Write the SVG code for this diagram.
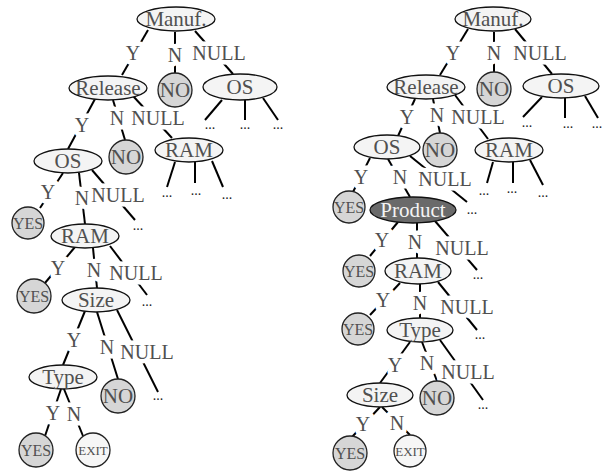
<svg xmlns="http://www.w3.org/2000/svg" width="612" height="472" viewBox="0 0 612 472">
<style>
  .edge { stroke: #000; stroke-width: 2; fill: none; }
  .lbl { font-family: "Liberation Serif", "DejaVu Serif", serif; font-size: 20px; fill: #505050; text-anchor: middle; dominant-baseline: central; stroke: #fff; stroke-width: 9; paint-order: stroke; stroke-linejoin: round; }
  .dots { font-family: "Liberation Serif", serif; font-size: 14px; fill: #222; text-anchor: middle; }
  .attr ellipse { fill: #f4f4f4; stroke: #111; stroke-width: 1.3; }
  .dark ellipse { fill: #6a6a6a; stroke: #111; stroke-width: 1.3; }
  .leaf circle { fill: #d6d6d6; stroke: #222; stroke-width: 1.3; }
  .exit circle { fill: #f6f6f6; stroke: #222; stroke-width: 1.3; }
  .t { font-family: "Liberation Serif", "DejaVu Serif", serif; font-size: 21px; fill: #505050; text-anchor: middle; dominant-baseline: central; }
  .dark .t { fill: #f4f4f4; }
  .yes { font-size: 16px; }
  .ex { font-size: 13px; }
</style>

<!-- ===== connectors ===== -->
<g id="connectors">
  <!-- left tree -->
  <line class="edge" x1="148" y1="30" x2="122" y2="75"/>
  <line class="edge" x1="175" y1="32" x2="175" y2="73"/>
  <line class="edge" x1="195" y1="31" x2="233" y2="74"/>
  <line class="edge" x1="222" y1="100" x2="205" y2="120"/>
  <line class="edge" x1="245" y1="100" x2="245" y2="120"/>
  <line class="edge" x1="263" y1="98" x2="278" y2="120"/>
  <line class="edge" x1="95" y1="99" x2="68" y2="149"/>
  <line class="edge" x1="113" y1="100" x2="125" y2="140"/>
  <line class="edge" x1="133" y1="96" x2="172" y2="138"/>
  <line class="edge" x1="175" y1="162" x2="167" y2="187"/>
  <line class="edge" x1="195" y1="162" x2="195" y2="183"/>
  <line class="edge" x1="212" y1="161" x2="223" y2="187"/>
  <line class="edge" x1="63" y1="173" x2="40" y2="208"/>
  <line class="edge" x1="79" y1="173" x2="85" y2="224"/>
  <line class="edge" x1="92" y1="170" x2="135" y2="220"/>
  <line class="edge" x1="75" y1="247" x2="45" y2="283"/>
  <line class="edge" x1="93" y1="248" x2="97" y2="288"/>
  <line class="edge" x1="110" y1="246" x2="147" y2="295"/>
  <line class="edge" x1="85" y1="311" x2="63" y2="365"/>
  <line class="edge" x1="97" y1="312" x2="118" y2="379"/>
  <line class="edge" x1="117" y1="310" x2="158" y2="392"/>
  <line class="edge" x1="61" y1="389" x2="45" y2="436"/>
  <line class="edge" x1="64" y1="389" x2="83" y2="436"/>

  <!-- right tree -->
  <line class="edge" x1="468" y1="29" x2="440" y2="75"/>
  <line class="edge" x1="494" y1="32" x2="494" y2="72"/>
  <line class="edge" x1="515" y1="29" x2="552" y2="74"/>
  <line class="edge" x1="542" y1="97" x2="523" y2="117"/>
  <line class="edge" x1="565" y1="98" x2="565" y2="118"/>
  <line class="edge" x1="585" y1="96" x2="598" y2="118"/>
  <line class="edge" x1="415" y1="99" x2="398" y2="136"/>
  <line class="edge" x1="433" y1="99" x2="440" y2="133"/>
  <line class="edge" x1="455" y1="95" x2="488" y2="139"/>
  <line class="edge" x1="493" y1="162" x2="487" y2="183"/>
  <line class="edge" x1="513" y1="162" x2="513" y2="183"/>
  <line class="edge" x1="530" y1="160" x2="543" y2="185"/>
  <line class="edge" x1="370" y1="158" x2="353" y2="192"/>
  <line class="edge" x1="388" y1="159" x2="410" y2="197"/>
  <line class="edge" x1="410" y1="156" x2="467" y2="202"/>
  <line class="edge" x1="398" y1="222" x2="370" y2="256"/>
  <line class="edge" x1="417" y1="223" x2="417" y2="258"/>
  <line class="edge" x1="435" y1="221" x2="477" y2="270"/>
  <line class="edge" x1="400" y1="283" x2="370" y2="315"/>
  <line class="edge" x1="420" y1="284" x2="420" y2="318"/>
  <line class="edge" x1="438" y1="282" x2="477" y2="330"/>
  <line class="edge" x1="410" y1="342" x2="380" y2="383"/>
  <line class="edge" x1="422" y1="342" x2="437" y2="381"/>
  <line class="edge" x1="440" y1="340" x2="483" y2="400"/>
  <line class="edge" x1="380" y1="407" x2="352" y2="437"/>
  <line class="edge" x1="382" y1="407" x2="410" y2="435"/>

  <!-- branch labels -->
  <text class="lbl" x="133" y="53">Y</text>
  <text class="lbl" x="175" y="55">N</text>
  <text class="lbl" x="219" y="53">NULL</text>
  <text class="lbl" x="82" y="125">Y</text>
  <text class="lbl" x="117" y="118">N</text>
  <text class="lbl" x="158" y="118">NULL</text>
  <text class="lbl" x="48" y="192">Y</text>
  <text class="lbl" x="82" y="198">N</text>
  <text class="lbl" x="118" y="195">NULL</text>
  <text class="lbl" x="58" y="268">Y</text>
  <text class="lbl" x="94" y="270">N</text>
  <text class="lbl" x="136" y="273">NULL</text>
  <text class="lbl" x="74" y="340">Y</text>
  <text class="lbl" x="107" y="347">N</text>
  <text class="lbl" x="147" y="352">NULL</text>
  <text class="lbl" x="53" y="413">Y</text>
  <text class="lbl" x="74" y="414">N</text>

  <text class="lbl" x="453" y="53">Y</text>
  <text class="lbl" x="494" y="53">N</text>
  <text class="lbl" x="540" y="53">NULL</text>
  <text class="lbl" x="407" y="117">Y</text>
  <text class="lbl" x="437" y="115">N</text>
  <text class="lbl" x="478" y="117">NULL</text>
  <text class="lbl" x="361" y="177">Y</text>
  <text class="lbl" x="400" y="177">N</text>
  <text class="lbl" x="445" y="179">NULL</text>
  <text class="lbl" x="382" y="240">Y</text>
  <text class="lbl" x="415" y="242">N</text>
  <text class="lbl" x="462" y="248">NULL</text>
  <text class="lbl" x="383" y="300">Y</text>
  <text class="lbl" x="420" y="303">N</text>
  <text class="lbl" x="467" y="307">NULL</text>
  <text class="lbl" x="395" y="365">Y</text>
  <text class="lbl" x="427" y="363">N</text>
  <text class="lbl" x="468" y="372">NULL</text>
  <text class="lbl" x="363" y="424">Y</text>
  <text class="lbl" x="397" y="423">N</text>

  <!-- elided subtrees -->
  <text class="dots" x="210" y="129">...</text>
  <text class="dots" x="245" y="129">...</text>
  <text class="dots" x="278" y="129">...</text>
  <text class="dots" x="167" y="197">...</text>
  <text class="dots" x="196" y="195">...</text>
  <text class="dots" x="227" y="199">...</text>
  <text class="dots" x="138" y="230">...</text>
  <text class="dots" x="147" y="306">...</text>
  <text class="dots" x="158" y="400">...</text>

  <text class="dots" x="527" y="127">...</text>
  <text class="dots" x="568" y="128">...</text>
  <text class="dots" x="597" y="128">...</text>
  <text class="dots" x="484" y="195">...</text>
  <text class="dots" x="512" y="193">...</text>
  <text class="dots" x="543" y="197">...</text>
  <text class="dots" x="472" y="214">...</text>
  <text class="dots" x="478" y="279">...</text>
  <text class="dots" x="480" y="339">...</text>
  <text class="dots" x="483" y="409">...</text>
</g>

<!-- ===== left tree nodes ===== -->
<g id="L_manuf" class="attr"><ellipse cx="176" cy="19" rx="39" ry="12"/><text class="t" x="176" y="19">Manuf.</text></g>
<g id="L_release" class="attr"><ellipse cx="108" cy="88" rx="39" ry="12"/><text class="t" x="108" y="88">Release</text></g>
<g id="L_no1" class="leaf"><circle cx="175" cy="90" r="17"/><text class="t" x="175" y="90">NO</text></g>
<g id="L_os_null" class="attr"><ellipse cx="240" cy="87" rx="37" ry="13"/><text class="t" x="240" y="87">OS</text></g>
<g id="L_os" class="attr"><ellipse cx="68" cy="161" rx="34" ry="12"/><text class="t" x="68" y="161">OS</text></g>
<g id="L_no2" class="leaf"><circle cx="126" cy="157" r="17"/><text class="t" x="126" y="157">NO</text></g>
<g id="L_ram_null" class="attr"><ellipse cx="189" cy="150" rx="34" ry="12"/><text class="t" x="189" y="150">RAM</text></g>
<g id="L_yes1" class="leaf"><circle cx="28" cy="223" r="16"/><text class="t yes" x="28" y="223">YES</text></g>
<g id="L_ram" class="attr"><ellipse cx="85" cy="236" rx="34" ry="12"/><text class="t" x="85" y="236">RAM</text></g>
<g id="L_yes2" class="leaf"><circle cx="34" cy="296" r="17"/><text class="t yes" x="34" y="296">YES</text></g>
<g id="L_size" class="attr"><ellipse cx="96" cy="300" rx="34" ry="12"/><text class="t" x="96" y="300">Size</text></g>
<g id="L_type" class="attr"><ellipse cx="63" cy="377" rx="34" ry="12"/><text class="t" x="63" y="377">Type</text></g>
<g id="L_no3" class="leaf"><circle cx="118" cy="396" r="17"/><text class="t" x="118" y="396">NO</text></g>
<g id="L_yes3" class="leaf"><circle cx="36" cy="450" r="17"/><text class="t yes" x="36" y="450">YES</text></g>
<g id="L_exit" class="exit"><circle cx="93" cy="450" r="17"/><text class="t ex" x="93" y="450">EXIT</text></g>

<!-- ===== right tree nodes ===== -->
<g id="R_manuf" class="attr"><ellipse cx="493" cy="19" rx="38" ry="12"/><text class="t" x="493" y="19">Manuf.</text></g>
<g id="R_release" class="attr"><ellipse cx="426" cy="87" rx="39" ry="12"/><text class="t" x="426" y="87">Release</text></g>
<g id="R_no1" class="leaf"><circle cx="494" cy="89" r="17"/><text class="t" x="494" y="89">NO</text></g>
<g id="R_os_null" class="attr"><ellipse cx="561" cy="86" rx="38" ry="12"/><text class="t" x="561" y="86">OS</text></g>
<g id="R_os" class="attr"><ellipse cx="387" cy="147" rx="33" ry="12"/><text class="t" x="387" y="147">OS</text></g>
<g id="R_no2" class="leaf"><circle cx="440" cy="150" r="17"/><text class="t" x="440" y="150">NO</text></g>
<g id="R_ram_null" class="attr"><ellipse cx="509" cy="150" rx="34" ry="12"/><text class="t" x="509" y="150">RAM</text></g>
<g id="R_yes1" class="leaf"><circle cx="349" cy="207" r="16"/><text class="t yes" x="349" y="207">YES</text></g>
<g id="R_product" class="dark"><ellipse cx="413" cy="210" rx="43" ry="13"/><text class="t" x="413" y="210">Product</text></g>
<g id="R_yes2" class="leaf"><circle cx="359" cy="271" r="16"/><text class="t yes" x="359" y="271">YES</text></g>
<g id="R_ram" class="attr"><ellipse cx="418" cy="271" rx="33" ry="13"/><text class="t" x="418" y="271">RAM</text></g>
<g id="R_yes3" class="leaf"><circle cx="358" cy="329" r="16"/><text class="t yes" x="358" y="329">YES</text></g>
<g id="R_type" class="attr"><ellipse cx="420" cy="330" rx="33" ry="12"/><text class="t" x="420" y="330">Type</text></g>
<g id="R_size" class="attr"><ellipse cx="380" cy="395" rx="33" ry="12"/><text class="t" x="380" y="395">Size</text></g>
<g id="R_no3" class="leaf"><circle cx="437" cy="398" r="17"/><text class="t" x="437" y="398">NO</text></g>
<g id="R_yes4" class="leaf"><circle cx="350" cy="453" r="17"/><text class="t yes" x="350" y="453">YES</text></g>
<g id="R_exit" class="exit"><circle cx="410" cy="451" r="16"/><text class="t ex" x="410" y="451">EXIT</text></g>
</svg>
